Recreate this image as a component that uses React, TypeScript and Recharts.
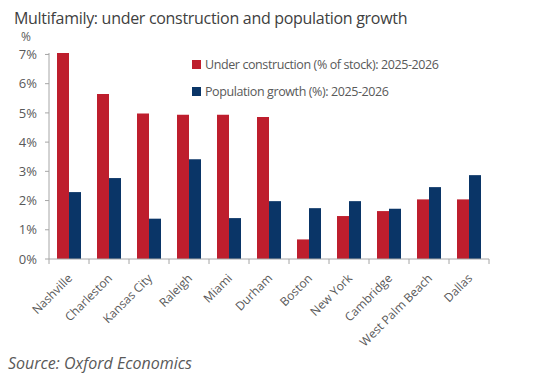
import { BarChart, Bar, XAxis, YAxis } from "recharts";

const cities = [
  "Nashville",
  "Charleston",
  "Kansas City",
  "Raleigh",
  "Miami",
  "Durham",
  "Boston",
  "New York",
  "Cambridge",
  "West Palm Beach",
  "Dallas",
];
const underConstruction = [7.05, 5.65, 4.98, 4.94, 4.94, 4.86, 0.67, 1.47, 1.64, 2.04, 2.04];
const populationGrowth = [2.29, 2.77, 1.38, 3.41, 1.4, 1.98, 1.74, 1.98, 1.72, 2.46, 2.87];
const yTicks = [0, 1, 2, 3, 4, 5, 6, 7];
const seriesNames = ["Under construction (% of stock): 2025-2026", "Population growth (%): 2025-2026"];

const RED = "#be1e2d";
const BLUE = "#0a3567";
const AXIS = "#a6a6a6";
const TEXT = "#595959";
const FONT = "'Open Sans', 'Noto Sans', sans-serif";

const data = cities.map((city, i) => ({
  city,
  construction: underConstruction[i],
  population: populationGrowth[i],
}));

// ticks sit on the band edges in the original, labels at band centres
function CityTick(props: any) {
  const { x, y, payload, index } = props;
  const half = payload?.offset ?? 20;
  const lx = x + 4;
  const ly = y + 12;
  return (
    <g>
      <line x1={x - half} y1={y - 8} x2={x - half} y2={y - 3} stroke={AXIS} />
      {index === cities.length - 1 && (
        <line x1={x + half} y1={y - 8} x2={x + half} y2={y - 3} stroke={AXIS} />
      )}
      <text
        x={lx}
        y={ly}
        transform={`rotate(-45 ${lx} ${ly})`}
        textAnchor="end"
        fontSize={12}
        fill={TEXT}
        fontFamily={FONT}
      >
        {payload.value}
      </text>
    </g>
  );
}

export default function App() {
  const colors = [RED, BLUE];
  return (
    <div style={{ position: "absolute", left: 0, top: 0, width: 539, height: 384, background: "#fff" }}>
      <div
        style={{
          position: "absolute",
          left: 14,
          top: 9,
          fontFamily: FONT,
          fontSize: 16,
          lineHeight: "18px",
          letterSpacing: -0.3,
          color: "#404040",
          whiteSpace: "nowrap",
        }}
      >
        Multifamily: under construction and population growth
      </div>
      <div
        style={{
          position: "absolute",
          left: 21,
          top: 31,
          fontFamily: FONT,
          fontSize: 12,
          lineHeight: "12px",
          color: TEXT,
        }}
      >
        %
      </div>
      <BarChart
        width={539}
        height={384}
        data={data}
        margin={{ top: 53, right: 50, bottom: 0, left: 0 }}
        barGap={0}
        barSize={12}
      >
        <XAxis
          dataKey="city"
          height={125}
          interval={0}
          tickLine={false}
          axisLine={{ stroke: AXIS }}
          tick={<CityTick />}
        />
        <YAxis
          width={49}
          domain={[0, 7]}
          ticks={yTicks}
          tickFormatter={(v: number) => `${v}%`}
          tickSize={4}
          tickMargin={8}
          axisLine={{ stroke: AXIS }}
          tickLine={{ stroke: AXIS }}
          tick={{ fill: TEXT, fontSize: 13, fontFamily: FONT }}
        />
        <Bar dataKey="construction" name={seriesNames[0]} fill={RED} isAnimationActive={false} />
        <Bar dataKey="population" name={seriesNames[1]} fill={BLUE} isAnimationActive={false} />
      </BarChart>
      <div
        style={{
          position: "absolute",
          left: 192,
          top: 51,
          fontFamily: FONT,
          fontSize: 12.5,
          letterSpacing: -0.4,
          color: TEXT,
          whiteSpace: "nowrap",
        }}
      >
        {seriesNames.map((name, i) => (
          <div key={name} style={{ display: "flex", alignItems: "center", height: 27 }}>
            <span style={{ width: 9, height: 9, background: colors[i], marginRight: 4 }} />
            {name}
          </div>
        ))}
      </div>
      <div
        style={{
          position: "absolute",
          left: 8,
          top: 352,
          fontFamily: FONT,
          fontSize: 16,
          lineHeight: "22px",
          fontStyle: "italic",
          color: TEXT,
        }}
      >
        Source: Oxford Economics
      </div>
    </div>
  );
}
